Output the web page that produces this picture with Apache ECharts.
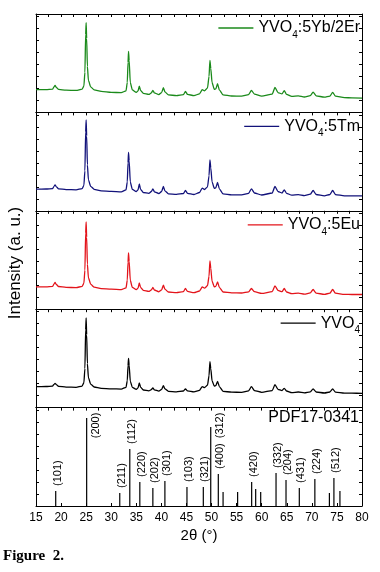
<!DOCTYPE html>
<html>
<head>
<meta charset="utf-8">
<script src="https://cdn.jsdelivr.net/npm/echarts@6/dist/echarts.min.js"></script>
<style>html,body{margin:0;padding:0;background:#fff}#c{width:380px;height:572px}</style>
</head>
<body>
<div id="c"></div>
<script>
// ---- data (2θ in degrees, intensity in a.u.) ----
const seriesNames = ['YVO4:5Yb/2Er', 'YVO4:5Tm', 'YVO4:5Eu', 'YVO4'];
const seriesColors = ['#1b8a1b', '#12127a', '#e3141b', '#000000'];

const ybEr = [[15,22.7],[17,22.8],[18.3,23.2],[18.6,25.5],[18.8,27],[19.05,25],[19.5,23],[21,22.2],[23,22],[24.2,23.2],[24.55,26.5],[24.75,40],[24.9,78],[25.0,89.7],[25.1,74],[25.25,46],[25.45,32],[25.9,25.5],[26.6,22.5],[28,21],[30,20],[32,19.8],[32.95,21.5],[33.2,30],[33.35,50],[33.45,61],[33.57,52],[33.8,30],[34.2,22.5],[35.0,20],[35.35,21.5],[35.6,26.3],[35.85,22],[36.4,19],[37.5,18],[38.0,19.5],[38.3,22],[38.6,19.5],[39.5,17.8],[40.05,19.8],[40.4,24.7],[40.7,20.5],[41.4,17.5],[43,16.8],[44.4,17.8],[44.8,21],[45.2,18],[46.5,16.8],[47.6,18.5],[48.15,22.7],[48.6,21.5],[49.2,24.5],[49.5,36],[49.68,52],[49.85,44],[50.1,30],[50.55,23],[50.85,23.5],[51.2,28.7],[51.55,22.5],[52.3,17.5],[54,16.4],[56,16.3],[57.4,17.8],[57.95,22],[58.55,18.3],[60,16.3],[62.1,18.3],[62.65,25],[63.25,19.8],[64.05,18.5],[64.5,21.7],[64.95,18],[66,16],[67.3,16.6],[68.5,15.4],[69.7,16.8],[70.25,20.3],[70.85,16.6],[72.5,15.2],[73.6,16.3],[74.15,20],[74.7,16.3],[76.5,14.8],[78,14.5],[80,14.3]];

const tm = [[15,21.7],[17,21.8],[18.3,22.2],[18.6,24.5],[18.8,26],[19.05,24],[19.5,22],[21,21.2],[23,21],[24.2,22.2],[24.55,25.5],[24.75,40],[24.9,79],[25.0,91],[25.1,75],[25.25,46],[25.45,31],[25.9,24.5],[26.6,21.5],[28,20],[30,19.5],[32,19],[32.95,21],[33.2,29],[33.35,48],[33.45,58.3],[33.57,50],[33.8,29],[34.2,21.5],[35.0,19.2],[35.35,21],[35.6,27],[35.85,21.5],[36.4,18.3],[37.5,17.5],[38.0,19.3],[38.3,22],[38.6,19],[39.5,17.2],[40.05,19.3],[40.4,24.3],[40.7,20],[41.4,17],[43,16.4],[44.4,17.3],[44.8,20.3],[45.2,17.5],[46.5,16.3],[47.6,18.3],[48.15,22.7],[48.6,21.3],[49.2,24],[49.5,35],[49.68,51],[49.85,43],[50.1,29],[50.55,22.5],[50.85,23],[51.2,28.3],[51.55,22],[52.3,17],[54,16],[56,16],[57.4,17.5],[57.95,22],[58.55,17.8],[60,15.8],[62.1,17.8],[62.65,24.3],[63.25,19.3],[64.05,17.8],[64.5,21],[64.95,17.5],[66,15.6],[67.3,16.2],[68.5,15.2],[69.7,16.6],[70.25,20.3],[70.85,16.3],[72.5,15],[73.6,16.3],[74.15,20.3],[74.7,16.2],[76.5,15],[78,15],[80,15]];

const eu = [[15,22.3],[17,22.4],[18.3,22.8],[18.6,25.2],[18.8,26.7],[19.05,24.7],[19.5,22.7],[21,21.8],[23,21.6],[24.2,22.8],[24.55,26],[24.75,39],[24.9,76],[25.0,87.3],[25.1,72],[25.25,45],[25.45,31.5],[25.9,25],[26.6,22],[28,20.6],[30,20],[32,19.6],[32.95,21.3],[33.2,29],[33.35,47],[33.45,56.3],[33.57,48],[33.8,29],[34.2,21.8],[35.0,19.6],[35.35,21],[35.6,26.3],[35.85,21.8],[36.4,18.8],[37.5,17.8],[38.0,19.3],[38.3,21.7],[38.6,19.2],[39.5,17.4],[40.05,19.3],[40.4,24],[40.7,20],[41.4,17.2],[43,16.6],[44.4,17.6],[44.8,20.7],[45.2,17.8],[46.5,16.5],[47.6,18.2],[48.15,22.3],[48.6,21],[49.2,23.5],[49.5,33],[49.68,48.3],[49.85,41],[50.1,28],[50.55,22.3],[50.85,22.8],[51.2,27.3],[51.55,21.8],[52.3,17.2],[54,16.3],[56,16.2],[57.4,17.3],[57.95,20.7],[58.55,17.5],[60,15.8],[62.1,17.5],[62.65,23.3],[63.25,18.8],[64.05,17.5],[64.5,20.7],[64.95,17.2],[66,15.5],[67.3,16],[68.5,15],[69.7,16.3],[70.25,19.7],[70.85,16],[72.5,14.9],[73.6,16],[74.15,19.7],[74.7,16],[76.5,14.8],[78,14.7],[80,14.7]];

const pure = [[15,21],[17,21.1],[18.3,21.5],[18.6,23.3],[18.8,24.3],[19.05,23],[19.5,21.3],[21,20.5],[23,20.3],[24.2,21.5],[24.55,25],[24.75,39],[24.9,78],[25.0,89.7],[25.1,73],[25.25,44],[25.45,30],[25.9,23.5],[26.6,20.6],[28,19.3],[30,18.8],[32,18.5],[32.95,20.3],[33.2,27],[33.35,42],[33.45,49.3],[33.57,42.5],[33.8,26.5],[34.2,20.3],[35.0,18.2],[35.35,19.8],[35.6,24.7],[35.85,20.5],[36.4,17.6],[37.5,16.8],[38.0,18],[38.3,19.7],[38.6,17.8],[39.5,16.5],[40.05,18.2],[40.4,22],[40.7,18.8],[41.4,16.3],[43,15.8],[44.4,16.6],[44.8,18.7],[45.2,16.8],[46.5,15.8],[47.6,17.3],[48.15,21],[48.6,20],[49.2,22.5],[49.5,32],[49.68,46],[49.85,39],[50.1,27],[50.55,21.5],[50.85,22],[51.2,26.3],[51.55,21],[52.3,16.3],[54,15.4],[56,15.3],[57.4,16.8],[57.95,21],[58.55,17],[60,15.3],[62.1,17],[62.65,23],[63.25,18.3],[64.05,17],[64.5,19.3],[64.95,16.6],[66,15],[67.3,15.6],[68.5,14.8],[69.7,15.8],[70.25,18.7],[70.85,15.6],[72.5,14.6],[73.6,15.6],[74.15,18.7],[74.7,15.5],[76.5,14.5],[78,14.4],[80,14.3]];

// PDF17-0341 reference lines
const pdfPos = [18.93, 25.1, 31.7, 33.7, 35.7, 38.3, 40.7, 45.1, 48.36, 49.84, 51.35, 52.3, 55.2, 58.0, 58.8, 59.8, 62.86, 64.85, 67.5, 70.6, 73.5, 74.4, 75.6];
const pdfInt = [15, 88, 13, 57, 24, 18, 25, 19, 19, 79, 32, 14, 14, 24, 17, 14, 33, 26, 18, 27, 13, 28, 15];
const pdfHkl = ['(101)','(200)','(211)','(112)','(220)','(202)','(301)','(103)','(321)','(312)','(400)','','','(420)','','','(332)','(204)','(431)','(224)','','(512)',''];

const xTicks = [15,20,25,30,35,40,45,50,55,60,65,70,75,80];
const yMax = 98.4;

// ---- chart ----
const FONT = 'Liberation Sans, Arial, sans-serif';
const chart = echarts.init(document.getElementById('c'), null, {renderer: 'canvas'});
const tops = [14, 112.4, 210.8, 309.2, 407.6];
const grids = [], xAxes = [], yAxes = [];
tops.forEach((t, i) => {
  grids.push({left: 36, right: 18, top: t, height: yMax, containLabel: false});
  const last = i === tops.length - 1;
  xAxes.push({gridIndex: i, type: 'value', min: xTicks[0], max: xTicks[xTicks.length-1], interval: 5, position: 'bottom',
    axisLine: {show: true, onZero: false, lineStyle: {color: '#000', width: 1}},
    axisTick: {show: last, inside: true, length: 3, lineStyle: {color: '#000'}},
    axisLabel: {show: last, color: '#000', fontSize: 12, fontFamily: FONT, margin: 6},
    splitLine: {show: false},
    name: last ? '2θ (°)' : '', nameLocation: 'middle', nameGap: 22,
    nameTextStyle: {color: '#000', fontSize: 15, fontFamily: FONT}});
  xAxes.push({gridIndex: i, type: 'value', min: 15, max: 80, interval: 2.5, position: 'top',
    axisLine: {show: true, onZero: false, lineStyle: {color: '#000', width: 1}},
    axisTick: {show: true, inside: true, length: 3, lineStyle: {color: '#000'}},
    axisLabel: {show: false}, splitLine: {show: false}});
  ['left', 'right'].forEach(pos => yAxes.push({gridIndex: i, type: 'value', min: 0, max: yMax, interval: 12, position: pos,
    axisLine: {show: true, onZero: false, lineStyle: {color: '#000', width: 1}},
    axisTick: {show: true, inside: true, length: 3, lineStyle: {color: '#000'}},
    axisLabel: {show: false}, splitLine: {show: false}}));
});

const curves = [ybEr, tm, eu, pure];
const series = curves.map((d, i) => ({
  name: seriesNames[i], type: 'line', data: d, xAxisIndex: 2*i, yAxisIndex: 2*i,
  symbol: 'none', showSymbol: false, smooth: 0.2, smoothMonotone: 'x', color: seriesColors[i],
  lineStyle: {width: 1.3, color: seriesColors[i]}, animation: false
}));

series.push({
  type: 'custom', xAxisIndex: 8, yAxisIndex: 8, animation: false,
  data: pdfPos.map((x, i) => [x, pdfInt[i], i]),
  encode: {x: 0, y: 1},
  renderItem: function (params, api) {
    const x = api.value(0), h = api.value(1), idx = api.value(2);
    const p0 = api.coord([x, 0]), p1 = api.coord([x, h]);
    const top = api.coord([x, yMax])[1];
    const children = [{type: 'line', shape: {x1: p0[0], y1: p0[1], x2: p1[0], y2: p1[1]},
      style: {stroke: '#000', lineWidth: 1.2}}];
    const lab = pdfHkl[idx];
    if (lab) {
      const tall = h > 70;
      children.push({type: 'text', x: tall ? p1[0] + 9 : p1[0] + 2, y: tall ? top + 5 : p1[1] - 5,
        rotation: Math.PI / 2,
        style: {text: lab, fontSize: 11, fontFamily: FONT, fill: '#000',
          align: tall ? 'right' : 'left', verticalAlign: 'middle',
          textAlign: tall ? 'right' : 'left', textVerticalAlign: 'middle'}});
    }
    return {type: 'group', children: children};
  }
});

function richName(name) {
  const m = name.match(/^(YVO)4(.*)$/);
  return '{m|' + m[1] + '}{s|4}' + (m[2] ? '{m|' + m[2] + '}' : '');
}
const legends = seriesNames.map((n, i) => ({
  data: [{name: n, icon: 'rect'}], right: 20, top: tops[i] + 6, itemWidth: 35, itemHeight: 1.3, itemGap: 0,
  padding: 0, formatter: richName,
  textStyle: {color: '#000', fontSize: 16, fontFamily: FONT,
    rich: {m: {fontSize: 16, fontFamily: FONT, color: '#000'},
           s: {fontSize: 10, fontFamily: FONT, color: '#000', padding: [14, 0, 0, 0]}}}
}));

chart.setOption({
  animation: false,
  backgroundColor: '#fff',
  grid: grids, xAxis: xAxes, yAxis: yAxes,
  legend: legends,
  series: series,
  graphic: [
    {type: 'text', x: 359, y: 410, style: {text: 'PDF17-0341', fontSize: 16, fontFamily: FONT, fill: '#000',
      textAlign: 'right', textVerticalAlign: 'top', align: 'right', verticalAlign: 'top'}},
    {type: 'text', x: 15, y: 263, rotation: Math.PI / 2, style: {text: 'Intensity (a. u.)', fontSize: 17, fontFamily: FONT, fill: '#000',
      textAlign: 'center', textVerticalAlign: 'middle', align: 'center', verticalAlign: 'middle'}},
    {type: 'text', x: 3, y: 549, style: {text: 'Figure  2.', fontSize: 15, fontWeight: 'bold', fontFamily: 'Liberation Serif, Times New Roman, serif', fill: '#000',
      textAlign: 'left', textVerticalAlign: 'top', align: 'left', verticalAlign: 'top'}}
  ]
});
</script>
</body>
</html>
